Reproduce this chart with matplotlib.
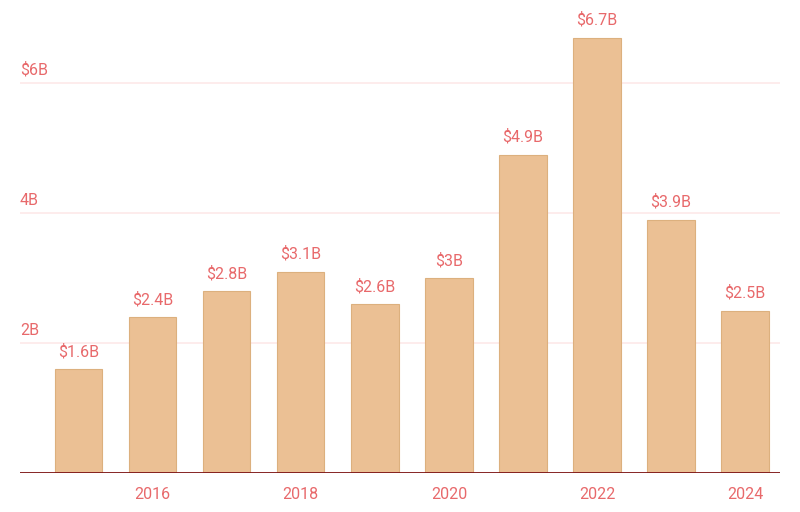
import matplotlib
matplotlib.use("Agg")
import matplotlib.pyplot as plt

years = [2015, 2016, 2017, 2018, 2019, 2020, 2021, 2022, 2023, 2024]
values = [1.6, 2.4, 2.8, 3.1, 2.6, 3.0, 4.9, 6.7, 3.9, 2.5]
labels = ["$1.6B", "$2.4B", "$2.8B", "$3.1B", "$2.6B", "$3B", "$4.9B", "$6.7B", "$3.9B", "$2.5B"]
grid_vals = [2, 4, 6]
grid_labels = ["2B", "4B", "$6B"]
tick_years = [2016, 2018, 2020, 2022, 2024]

red = "#e8696b"
plt.rcParams['font.family'] = ['Roboto', 'DejaVu Sans']

fig = plt.figure(figsize=(8, 5.12), dpi=100)
ax = fig.add_axes([20/800, 39/512, 760/800, 473/512])
x = list(range(len(years)))
ax.bar(x, values, width=0.64, color="#ebc094", edgecolor="#dcb07e", linewidth=0.8, zorder=2)

for g, gl in zip(grid_vals, grid_labels):
    ax.axhline(g, color="#fde9e9", linewidth=1.2, zorder=1)
    ax.text(-0.79, g + 0.08, gl, color=red, fontsize=11.5, ha="left", va="bottom")

for xi, v, l in zip(x, values, labels):
    ax.text(xi, v + 0.15, l, color=red, fontsize=11.5, ha="center", va="bottom")

ax.axhline(0, color="#7d1414", linewidth=1.3, zorder=3)
ax.set_xlim(-0.79, 9.47)
ax.set_ylim(0, 473/65)
ax.set_xticks([years.index(t) for t in tick_years])
ax.set_xticklabels([str(t) for t in tick_years], color=red, fontsize=11.5)
ax.tick_params(axis="x", length=0, pad=10)
ax.set_yticks([])
for s in ax.spines.values():
    s.set_visible(False)

fig.savefig("out.png", dpi=100)
